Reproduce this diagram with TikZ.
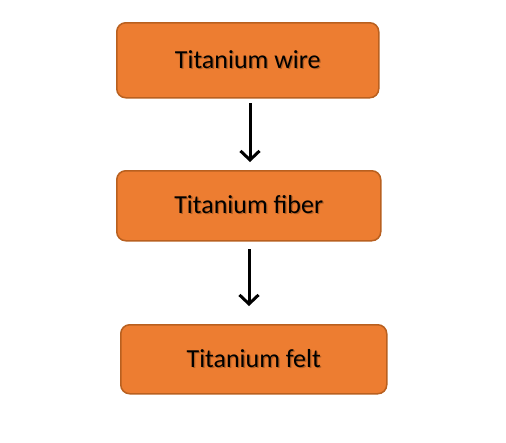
\documentclass[tikz,border=0pt]{standalone}
\usepackage{fontspec}
\setmainfont{Carlito}
\usetikzlibrary{arrows.meta}
\definecolor{boxfill}{HTML}{ED7D31}
\definecolor{boxedge}{HTML}{B9601F}
\definecolor{shadowc}{HTML}{8A4A1C}
\tikzset{
  flowbox/.style={draw=boxedge, line width=1.5pt, fill=boxfill, rounded corners=9pt, anchor=north west, inner sep=0pt},
  flowarrow/.style={draw=black, line width=3pt, -{Straight Barb[length=9pt,width=19pt,line width=3pt]}},
  boxtext/.style={font=\fontsize{26}{30}\selectfont, text=black},
  shadowtext/.style={font=\fontsize{26}{30}\selectfont, text=shadowc, opacity=0.6}
}
\begin{document}
\begin{tikzpicture}[x=1pt,y=-1pt]
\useasboundingbox (0,0) rectangle (506,442);
\node[flowbox, minimum width=262pt, minimum height=75pt] (w) at (116,22) {};
\node[flowbox, minimum width=264pt, minimum height=70pt] (f) at (116,170) {};
\node[flowbox, minimum width=266pt, minimum height=69pt] (t) at (120,324) {};
\node[shadowtext] (ws) at ([xshift=1.3pt,yshift=-0.3pt]w.center) {Titanium wire};
\node[shadowtext] (fs) at ([xshift=1.3pt,yshift=-0.3pt]f.center) {Titanium fiber};
\node[shadowtext] (ts) at ([xshift=1.3pt,yshift=-0.3pt]t.center) {Titanium felt};
\node[boxtext] (wt) at ([yshift=1pt]w.center) {Titanium wire};
\node[boxtext] (ft) at ([yshift=1pt]f.center) {Titanium fiber};
\node[boxtext] (tt) at ([yshift=1pt]t.center) {Titanium felt};
\coordinate (a1s) at (250,103);
\coordinate (a1e) at (250,162);
\coordinate (a2s) at (249,249);
\coordinate (a2e) at (249,306);
\draw[flowarrow] (a1s) -- (a1e);
\draw[flowarrow] (a2s) -- (a2e);
\end{tikzpicture}
\end{document}
